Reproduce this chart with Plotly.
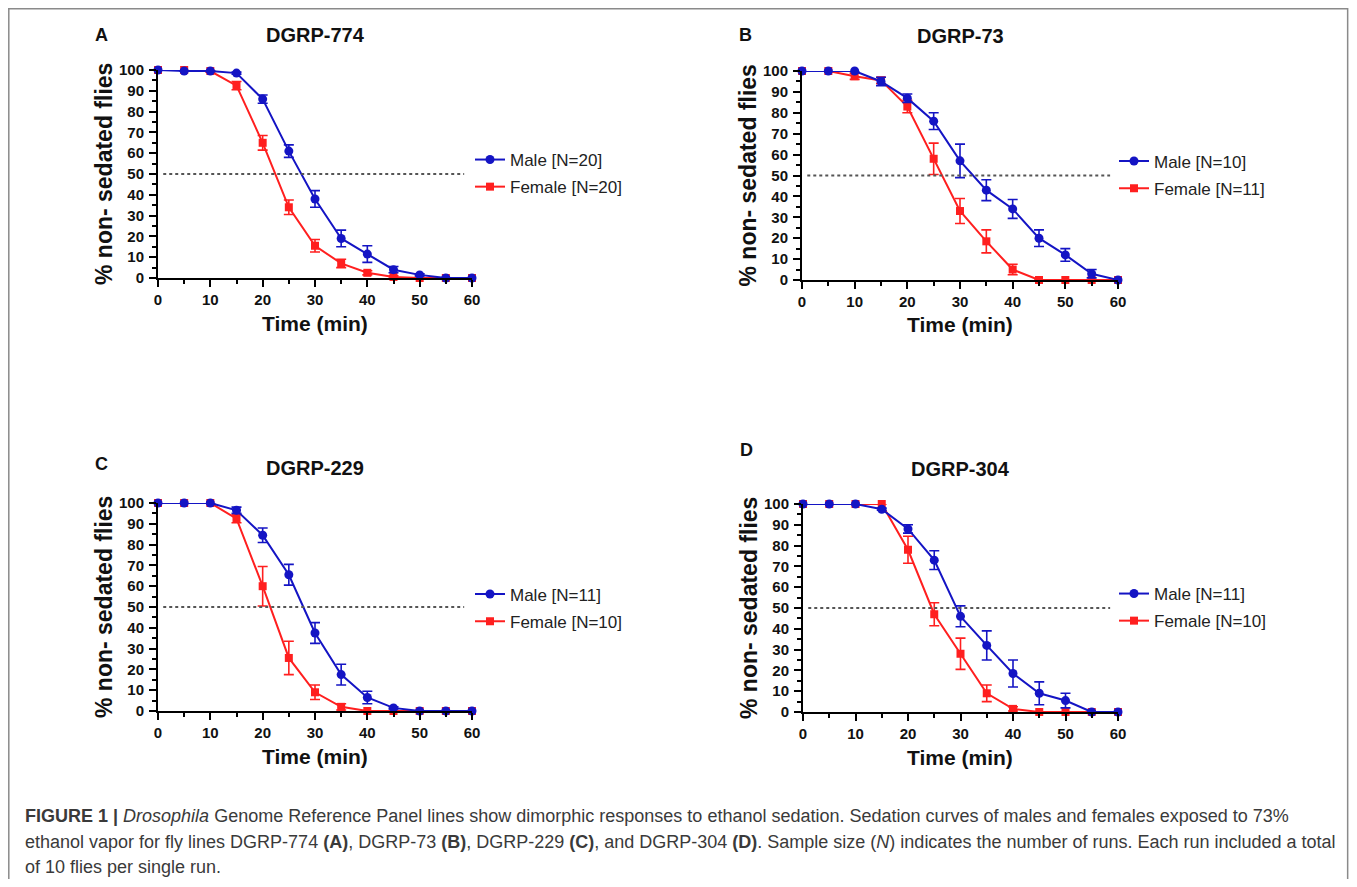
import plotly.graph_objects as go

# --- data ---
time_min = [0, 5, 10, 15, 20, 25, 30, 35, 40, 45, 50, 55, 60]

fly_lines = ['DGRP-774', 'DGRP-73', 'DGRP-229', 'DGRP-304']
panel_letters = ['A', 'B', 'C', 'D']
n_male = [20, 10, 11, 11]
n_female = [20, 11, 10, 10]

# % non-sedated flies, mean and error
male_774 = [100, 99.5, 99.5, 98.5, 86, 61, 38, 19, 11.5, 4, 1.5, 0, 0]
male_774_err = [0, 0, 0, 0.5, 2, 3, 4, 4, 4, 1.5, 0.5, 0, 0]
female_774 = [100, 100, 99.5, 92.5, 65, 34, 15.5, 7, 2.5, 0.5, 0, 0, 0]
female_774_err = [0, 0, 0.5, 2, 3.5, 3.5, 3, 2, 1, 0.5, 0, 0, 0]

male_73 = [100, 100, 100, 95, 87, 76, 57, 43, 34, 20, 12, 3, 0]
male_73_err = [0, 0, 0, 2, 2, 4, 8, 5, 4.5, 4, 3, 2, 0]
female_73 = [100, 100, 97.5, 95.5, 83, 58, 33, 18.5, 5, 0, 0, 0, 0]
female_73_err = [0, 0, 1.5, 1.5, 3, 7.5, 6, 5.5, 2.5, 0, 0, 0, 0]

male_229 = [100, 100, 100, 96.5, 84.5, 65.5, 37.5, 17.5, 6.5, 1.5, 0, 0, 0]
male_229_err = [0, 0, 0, 1.5, 3.5, 5, 5, 5, 3, 0.5, 0, 0, 0]
female_229 = [100, 100, 100, 92.5, 60, 25.5, 9, 2, 0, 0, 0, 0, 0]
female_229_err = [0, 0, 0, 2, 9.5, 8, 3.5, 1.5, 0, 0, 0, 0, 0]

male_304 = [100, 100, 100, 97.5, 88, 73, 46, 32, 18.5, 9, 5.5, 0, 0]
male_304_err = [0, 0, 0, 0.5, 2, 4.5, 5, 7, 6.5, 5.5, 3.5, 0, 0]
female_304 = [100, 100, 100, 100, 78, 47, 28, 9, 1.5, 0, 0, 0, 0]
female_304_err = [0, 0, 0, 0, 6.5, 5.5, 7.5, 4, 1, 0, 0, 0, 0]

male_all = [(male_774, male_774_err), (male_73, male_73_err),
            (male_229, male_229_err), (male_304, male_304_err)]
female_all = [(female_774, female_774_err), (female_73, female_73_err),
              (female_229, female_229_err), (female_304, female_304_err)]

caption_lines = [
    '<b>FIGURE 1 |</b> <i>Drosophila</i> Genome Reference Panel lines show dimorphic responses to ethanol sedation. '
    'Sedation curves of males and females exposed to 73%',
    'ethanol vapor for fly lines DGRP-774 <b>(A)</b>, DGRP-73 <b>(B)</b>, DGRP-229 <b>(C)</b>, and DGRP-304 <b>(D)</b>. '
    'Sample size (<i>N</i>) indicates the number of runs. Each run included a total',
    'of 10 flies per single run.',
]

# --- page geometry ---
# the html body keeps its default 8px margin, so the figure is made to fit
# inside the window and page pixels are shifted by that margin
PAGE_W, PAGE_H = 1357, 887
BODY = 8
W, H = PAGE_W - 2 * BODY, PAGE_H - 2 * BODY

# page pixels: x left, x right, y top (100%), y bottom (0%)
panel_px = [(158, 472, 70, 278), (802, 1118, 71, 280),
            (158, 472, 503, 711), (803, 1118, 504, 712)]
legend_px = [(470, 173.5), (1114, 175), (470, 608), (1114, 607.5)]

BLUE = '#1414c4'
RED = '#ff1f1f'
FONT = 'Arial, Liberation Sans, sans-serif'


def px_x(v):
    return (v - BODY) / W


def px_y(v):
    return 1 - (v - BODY) / H


def label(text, x, y, size, **kw):
    return dict(text=text, x=px_x(x), y=px_y(y), xref='paper', yref='paper',
                xanchor=kw.pop('xanchor', 'center'), yanchor='middle', showarrow=False,
                font=dict(family=FONT, size=size, color=kw.pop('color', '#111')), **kw)


fig = go.Figure()
annotations = []
shapes = []

for i in range(4):
    x0, x1, yt, yb = panel_px[i]
    sfx = '' if i == 0 else str(i + 1)
    leg = 'legend' if i == 0 else 'legend' + str(i + 1)

    # female first so the male circles sit on top
    fy, fe = female_all[i]
    fig.add_trace(go.Scatter(
        x=time_min, y=fy, mode='lines+markers',
        name=f'Female [N={n_female[i]}]',
        line=dict(color=RED, width=2),
        marker=dict(symbol='square', size=8, color=RED),
        error_y=dict(type='data', array=fe, color=RED, thickness=1.6, width=5),
        xaxis='x' + sfx, yaxis='y' + sfx, cliponaxis=False,
        legend=leg, legendgroup=f'f{i}', legendrank=2,
    ))
    my, me = male_all[i]
    fig.add_trace(go.Scatter(
        x=time_min, y=my, mode='lines+markers',
        name=f'Male [N={n_male[i]}]',
        line=dict(color=BLUE, width=2),
        marker=dict(symbol='circle', size=9, color=BLUE),
        error_y=dict(type='data', array=me, color=BLUE, thickness=1.6, width=5),
        xaxis='x' + sfx, yaxis='y' + sfx, cliponaxis=False,
        legend=leg, legendgroup=f'm{i}', legendrank=1,
    ))

    axis_common = dict(
        showline=True, linecolor='black', linewidth=2,
        ticks='outside', ticklen=7, tickwidth=2, tickcolor='black',
        showgrid=False, zeroline=False, automargin=False,
        tickfont=dict(family=FONT, size=15, color='#111', weight='bold'),
        minor=dict(dtick=5, ticklen=4, tickwidth=2, tickcolor='black', ticks='outside'),
    )
    fig.update_layout(**{
        'xaxis' + sfx: dict(domain=[px_x(x0), px_x(x1)], range=[0, 60], dtick=10,
                            anchor='y' + sfx, **axis_common),
        'yaxis' + sfx: dict(domain=[px_y(yb), px_y(yt)], range=[0, 100], dtick=10,
                            anchor='x' + sfx, ticklabelstandoff=2, **axis_common),
        leg: dict(
            x=px_x(legend_px[i][0]), y=px_y(legend_px[i][1]),
            xanchor='left', yanchor='middle',
            font=dict(family=FONT, size=17, color='#222'),
            traceorder='grouped', tracegroupgap=2,
            bgcolor='rgba(0,0,0,0)',
        ),
    })

    # 50% reference line
    shapes.append(dict(type='line', xref='x' + sfx, yref='y' + sfx,
                       x0=1, x1=58.5, y0=50, y1=50,
                       line=dict(color='#555', width=2, dash='dot')))

    mid_x = (x0 + x1) / 2
    mid_y = (yt + yb) / 2
    title_y = yt - 35
    annotations.append(label(f'<b>{fly_lines[i]}</b>', mid_x, title_y, 20))
    letter_y = [35, 35, 464, 450][i]
    annotations.append(label(f'<b>{panel_letters[i]}</b>', x0 - 57, letter_y, 18))
    annotations.append(label('<b>% non- sedated flies</b>', x0 - 54, mid_y, 23, textangle=-90))
    annotations.append(label('<b>Time (min)</b>', mid_x, yb + 45, 21))

# figure caption
for k, line in enumerate(caption_lines):
    annotations.append(label(line, 23, 816 + 25.5 * k, 18, xanchor='left', align='left',
                             color='#3a3a3a'))

# page frame (open at the bottom)
frame = dict(xref='paper', yref='paper', line=dict(color='#8a8a8a', width=1.5))
right = min(px_x(1352), 0.999)
shapes.append(dict(type='line', x0=px_x(8) + 0.0006, x1=px_x(8) + 0.0006, y0=px_y(8), y1=0, **frame))
shapes.append(dict(type='line', x0=px_x(8), x1=right, y0=px_y(8) - 0.0009, y1=px_y(8) - 0.0009, **frame))
shapes.append(dict(type='line', x0=right, x1=right, y0=px_y(8), y1=0, **frame))

fig.update_layout(
    width=W, height=H,
    margin=dict(l=0, r=0, t=0, b=0),
    paper_bgcolor='white', plot_bgcolor='white',
    annotations=annotations, shapes=shapes,
    showlegend=True,
)

fig.write_html("out.html")
